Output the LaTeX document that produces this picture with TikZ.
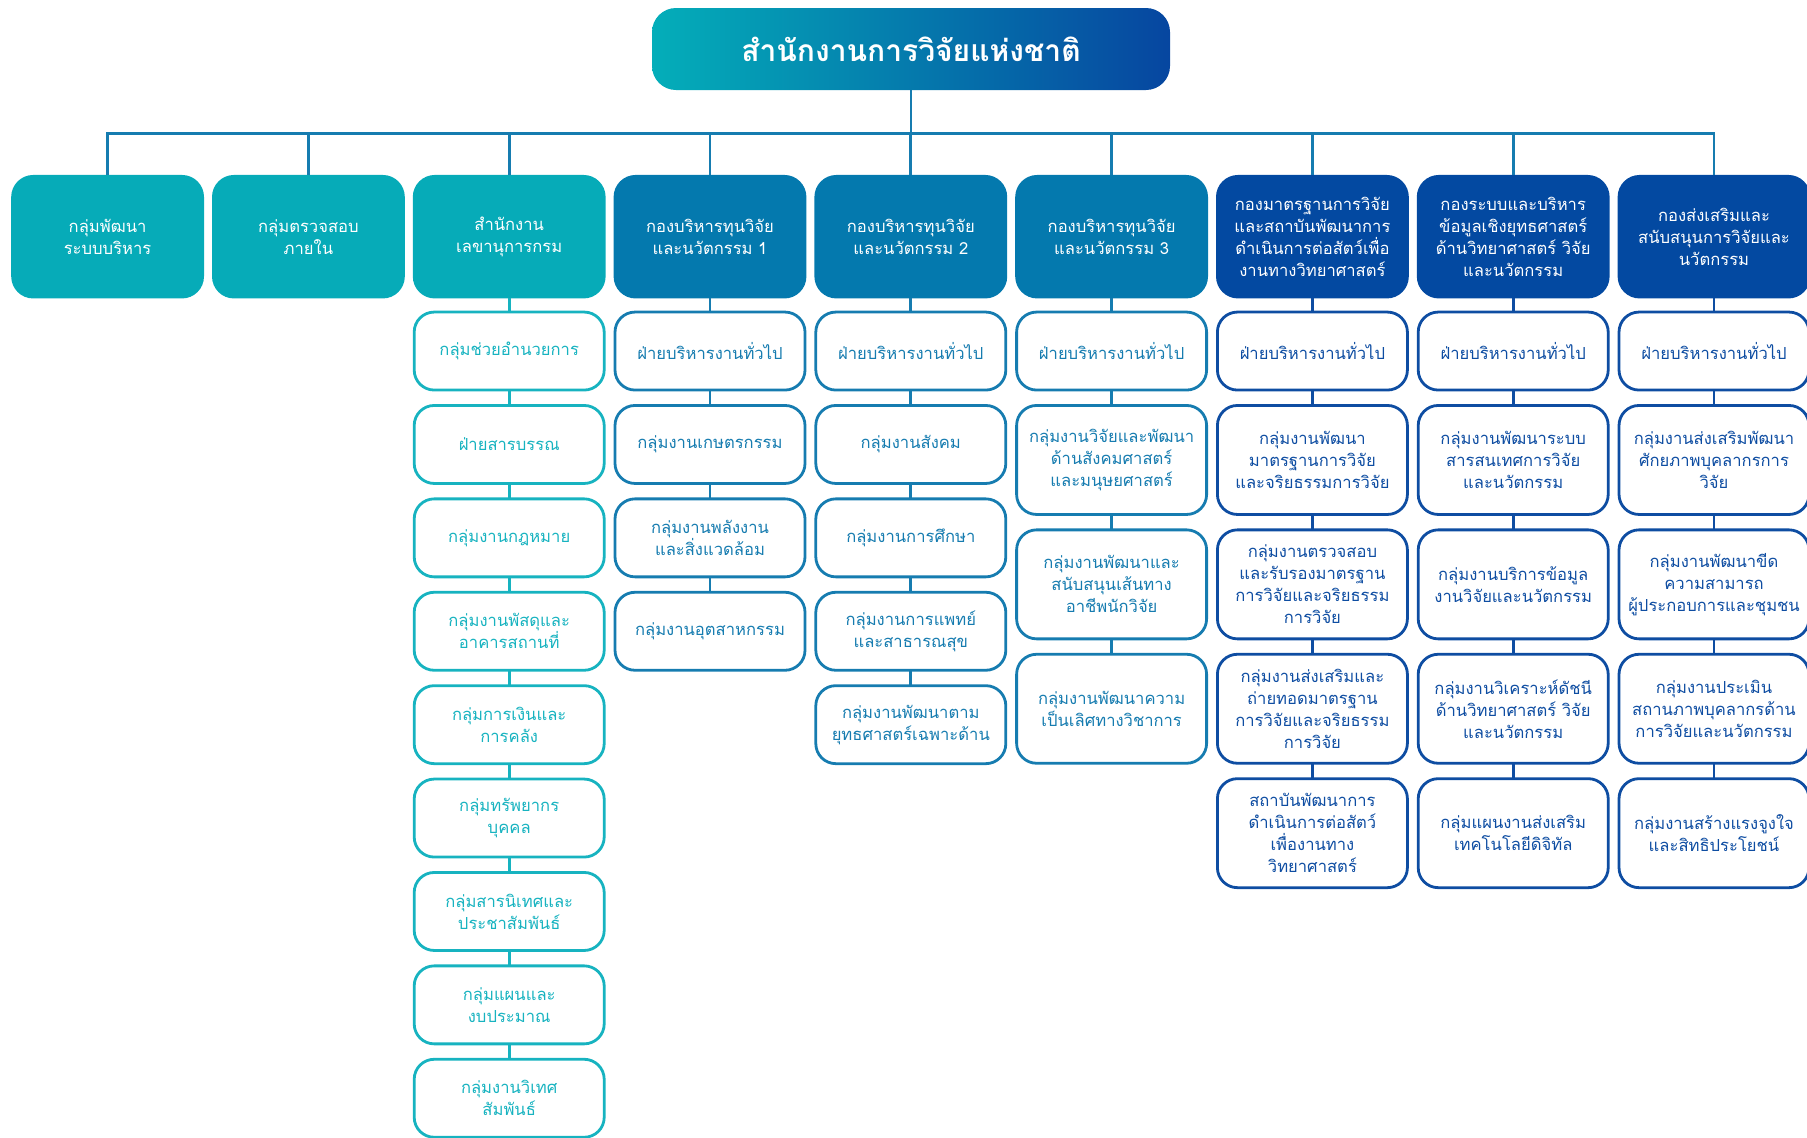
\documentclass[tikz,border=0pt]{standalone}
\usepackage{fontspec}
\setmainfont[Script=Thai]{Loma}
\usepackage{xcolor}
\usetikzlibrary{positioning}

\definecolor{nrTeal}{HTML}{06ABB8}
\definecolor{nrBlue}{HTML}{0479AE}
\definecolor{nrNavy}{HTML}{0349A1}
\definecolor{nrTealL}{HTML}{17B3C0}
\definecolor{nrBlueL}{HTML}{167CB0}
\definecolor{nrNavyL}{HTML}{0E4DA2}
\definecolor{nrTitleL}{HTML}{04AEB9}
\definecolor{nrTitleR}{HTML}{0646A0}

\begin{document}
\begin{tikzpicture}[
    x=0.5pt, y=-0.5pt,
    node distance=7.7pt and 4pt,
    box/.style={align=center, inner sep=2pt, outer sep=0pt,
                font=\fontsize{8.3}{11}\selectfont},
    head/.style={box, minimum width=96.4pt, minimum height=61.75pt,
                 rounded corners=11pt, text=white},
    headT/.style={head, fill=nrTeal},
    headB/.style={head, fill=nrBlue},
    headN/.style={head, fill=nrNavy},
    unit/.style={box, draw, line width=1.4pt, fill=white, minimum width=95pt,
                 minimum height=39pt, rounded corners=10pt},
    unitT/.style={unit, draw=nrTealL, text=nrTealL},
    unitB/.style={unit, draw=nrBlueL, text=nrBlueL},
    unitN/.style={unit, draw=nrNavyL, text=nrNavyL},
    tall/.style={minimum height=54.5pt},
    link/.style={line width=1.35pt, draw=nrBlueL},
    linkT/.style={link, draw=nrTealL},
    linkN/.style={link, draw=nrNavyL}
]
\useasboundingbox (0,0) rectangle (1807,1137);

% top office
\node[box, minimum width=259pt, minimum height=41pt, rounded corners=12pt,
      left color=nrTitleL, right color=nrTitleR, text=white,
      font=\fontsize{15}{18}\selectfont\bfseries] (nrct) at (911,49) {สำนักงานการวิจัยแห่งชาติ};

% divisions
\node[headT]                  (dev)   at (107.6,236.7) {กลุ่มพัฒนา\\ระบบบริหาร};
\node[headT, right=of dev]    (audit) {กลุ่มตรวจสอบ\\ภายใน};
\node[headT, right=of audit]  (secr)  {สำนักงาน\\เลขานุการกรม};
\node[headB, right=of secr]   (fundA) {กองบริหารทุนวิจัย\\และนวัตกรรม 1};
\node[headB, right=of fundA]  (fundB) {กองบริหารทุนวิจัย\\และนวัตกรรม 2};
\node[headB, right=of fundB]  (fundC) {กองบริหารทุนวิจัย\\และนวัตกรรม 3};
\node[headN, right=of fundC]  (std)   {กองมาตรฐานการวิจัย\\และสถาบันพัฒนาการ\\ดำเนินการต่อสัตว์เพื่อ\\งานทางวิทยาศาสตร์};
\node[headN, right=of std]    (data)  {กองระบบและบริหาร\\ข้อมูลเชิงยุทธศาสตร์\\ด้านวิทยาศาสตร์ วิจัย\\และนวัตกรรม};
\node[headN, right=of data]   (promo) {กองส่งเสริมและ\\สนับสนุนการวิจัยและ\\นวัตกรรม};

% secretariat units
\node[unitT, below=6.8pt of secr] (secr1) {กลุ่มช่วยอำนวยการ};
\node[unitT, below=of secr1]      (secr2) {ฝ่ายสารบรรณ};
\node[unitT, below=of secr2]      (secr3) {กลุ่มงานกฎหมาย};
\node[unitT, below=of secr3]      (secr4) {กลุ่มงานพัสดุและ\\อาคารสถานที่};
\node[unitT, below=of secr4]      (secr5) {กลุ่มการเงินและ\\การคลัง};
\node[unitT, below=of secr5]      (secr6) {กลุ่มทรัพยากร\\บุคคล};
\node[unitT, below=of secr6]      (secr7) {กลุ่มสารนิเทศและ\\ประชาสัมพันธ์};
\node[unitT, below=of secr7]      (secr8) {กลุ่มแผนและ\\งบประมาณ};
\node[unitT, below=of secr8]      (secr9) {กลุ่มงานวิเทศ\\สัมพันธ์};

% research fund divisions
\node[unitB, below=6.8pt of fundA] (fundA1) {ฝ่ายบริหารงานทั่วไป};
\node[unitB, below=of fundA1]      (fundA2) {กลุ่มงานเกษตรกรรม};
\node[unitB, below=of fundA2]      (fundA3) {กลุ่มงานพลังงาน\\และสิ่งแวดล้อม};
\node[unitB, below=of fundA3]      (fundA4) {กลุ่มงานอุตสาหกรรม};

\node[unitB, below=6.8pt of fundB] (fundB1) {ฝ่ายบริหารงานทั่วไป};
\node[unitB, below=of fundB1]      (fundB2) {กลุ่มงานสังคม};
\node[unitB, below=of fundB2]      (fundB3) {กลุ่มงานการศึกษา};
\node[unitB, below=of fundB3]      (fundB4) {กลุ่มงานการแพทย์\\และสาธารณสุข};
\node[unitB, below=of fundB4]      (fundB5) {กลุ่มงานพัฒนาตาม\\ยุทธศาสตร์เฉพาะด้าน};

\node[unitB, below=6.8pt of fundC]  (fundC1) {ฝ่ายบริหารงานทั่วไป};
\node[unitB, tall, below=of fundC1] (fundC2) {กลุ่มงานวิจัยและพัฒนา\\ด้านสังคมศาสตร์\\และมนุษยศาสตร์};
\node[unitB, tall, below=of fundC2] (fundC3) {กลุ่มงานพัฒนาและ\\สนับสนุนเส้นทาง\\อาชีพนักวิจัย};
\node[unitB, tall, below=of fundC3] (fundC4) {กลุ่มงานพัฒนาความ\\เป็นเลิศทางวิชาการ};

% standards, data and promotion divisions
\node[unitN, below=6.8pt of std]  (std1) {ฝ่ายบริหารงานทั่วไป};
\node[unitN, tall, below=of std1] (std2) {กลุ่มงานพัฒนา\\มาตรฐานการวิจัย\\และจริยธรรมการวิจัย};
\node[unitN, tall, below=of std2] (std3) {กลุ่มงานตรวจสอบ\\และรับรองมาตรฐาน\\การวิจัยและจริยธรรม\\การวิจัย};
\node[unitN, tall, below=of std3] (std4) {กลุ่มงานส่งเสริมและ\\ถ่ายทอดมาตรฐาน\\การวิจัยและจริยธรรม\\การวิจัย};
\node[unitN, tall, below=of std4] (std5) {สถาบันพัฒนาการ\\ดำเนินการต่อสัตว์\\เพื่องานทาง\\วิทยาศาสตร์};

\node[unitN, below=6.8pt of data]  (data1) {ฝ่ายบริหารงานทั่วไป};
\node[unitN, tall, below=of data1] (data2) {กลุ่มงานพัฒนาระบบ\\สารสนเทศการวิจัย\\และนวัตกรรม};
\node[unitN, tall, below=of data2] (data3) {กลุ่มงานบริการข้อมูล\\งานวิจัยและนวัตกรรม};
\node[unitN, tall, below=of data3] (data4) {กลุ่มงานวิเคราะห์ดัชนี\\ด้านวิทยาศาสตร์ วิจัย\\และนวัตกรรม};
\node[unitN, tall, below=of data4] (data5) {กลุ่มแผนงานส่งเสริม\\เทคโนโลยีดิจิทัล};

\node[unitN, below=6.8pt of promo]  (promo1) {ฝ่ายบริหารงานทั่วไป};
\node[unitN, tall, below=of promo1] (promo2) {กลุ่มงานส่งเสริมพัฒนา\\ศักยภาพบุคลากรการ\\วิจัย};
\node[unitN, tall, below=of promo2] (promo3) {กลุ่มงานพัฒนาขีด\\ความสามารถ\\ผู้ประกอบการและชุมชน};
\node[unitN, tall, below=of promo3] (promo4) {กลุ่มงานประเมิน\\สถานภาพบุคลากรด้าน\\การวิจัยและนวัตกรรม};
\node[unitN, tall, below=of promo4] (promo5) {กลุ่มงานสร้างแรงจูงใจ\\และสิทธิประโยชน์};

% bus from the office to every division
\coordinate (bus) at (911,133.7);
\draw[link] (nrct) -- (nrct |- bus);
\draw[link] (dev.north) -- (dev.north |- bus) -- (promo.north |- bus) -- (promo.north);
\foreach \a in {audit, secr, fundA, fundB, fundC, std, data}
  \draw[link] (\a.north) -- (\a.north |- bus);

\foreach \a/\b in {secr/secr1, secr1/secr2, secr2/secr3, secr3/secr4, secr4/secr5,
                   secr5/secr6, secr6/secr7, secr7/secr8, secr8/secr9}
  \draw[linkT] (\a) -- (\b);
\foreach \a/\b in {fundA/fundA1, fundA1/fundA2, fundA2/fundA3, fundA3/fundA4,
                   fundB/fundB1, fundB1/fundB2, fundB2/fundB3, fundB3/fundB4, fundB4/fundB5,
                   fundC/fundC1, fundC1/fundC2, fundC2/fundC3, fundC3/fundC4}
  \draw[link] (\a) -- (\b);
\foreach \a/\b in {std/std1, std1/std2, std2/std3, std3/std4, std4/std5,
                   data/data1, data1/data2, data2/data3, data3/data4, data4/data5,
                   promo/promo1, promo1/promo2, promo2/promo3, promo3/promo4, promo4/promo5}
  \draw[linkN] (\a) -- (\b);
\end{tikzpicture}
\end{document}
